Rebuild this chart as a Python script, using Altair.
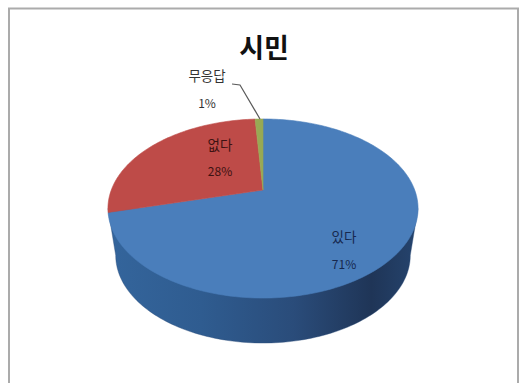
import math
import altair as alt
import pandas as pd

# Survey answers, clockwise from twelve o'clock
answers = ["있다", "없다", "무응답"]
shares = [71, 28, 1]
face_colors = ["#4a7ebb", "#be4b48", "#98a954"]

title_text = "시민"
CANVAS_W, CANVAS_H = 521, 383
FONT = "Noto Sans CJK KR"

# Pie tilted away from the viewer: a projective map of the unit circle
APEX_X, APEX_Y = 263, 190
SPREAD_X, SPREAD_Y, TILT = 151.7, 85.7, 0.2067


def rim(angle):
    u, v = math.sin(angle), -math.cos(angle)
    d = 1 - TILT * v
    return APEX_X + SPREAD_X * u / d, APEX_Y + SPREAD_Y * v / d


def sector(start, stop, steps):
    pts = [(APEX_X, APEX_Y)]
    for i in range(steps + 1):
        pts.append(rim(start + (stop - start) * i / steps))
    return pts


def table(pts):
    return pd.DataFrame({"x": [p[0] for p in pts], "y": [p[1] for p in pts], "i": range(len(pts))})


X = alt.X("x:Q", scale=alt.Scale(domain=[0, CANVAS_W], range=[0, CANVAS_W], nice=False, zero=False), axis=None)
Y = alt.Y("y:Q", scale=alt.Scale(domain=[0, CANVAS_H], range=[0, CANVAS_H], nice=False, zero=False), axis=None)


def polygon(pts, fill, stroke, width=0.6):
    return (
        alt.Chart(table(pts))
        .mark_line(fill=fill, stroke=stroke, strokeWidth=width, interpolate="linear-closed")
        .encode(x=X, y=Y, order="i:Q")
    )


layers = []

# Outer wall: lower rim joined to the widest points of the top face
FACE_MID_Y = 208.5
steps = 120
side_right = math.acos(-TILT)
side_left = 2 * math.pi - side_right
lower = []
for i in range(steps + 1):
    px, py = rim(side_right + (side_left - side_right) * i / steps)
    lower.append((APEX_X + 0.95 * (px - APEX_X), (py - FACE_MID_Y) * 0.98 + 255.3))
wall = [rim(side_right)] + lower + [rim(side_left)]
wall_fill = alt.Gradient(
    gradient="linear", x1=0, x2=1, y1=0, y2=0,
    stops=[
        alt.GradientStop(offset=0, color="#34659c"),
        alt.GradientStop(offset=0.3, color="#2f5c90"),
        alt.GradientStop(offset=0.6, color="#2a4c7a"),
        alt.GradientStop(offset=0.85, color="#1f3557"),
        alt.GradientStop(offset=1, color="#25446e"),
    ],
)
layers.append(polygon(wall, wall_fill, "#2a4c7a", 0.4))

# Top face, one wedge per answer
turn = 0.0
for share, color in zip(shares, face_colors):
    start = turn
    turn += share / sum(shares) * 2 * math.pi
    layers.append(polygon(sector(start, turn, max(2, int(share * 3))), color, color))

# Frame on three sides
frame = pd.DataFrame({"x": [9, 9, 518, 518], "y": [383, 8.5, 8.5, 383], "i": range(4)})
layers.append(
    alt.Chart(frame).mark_line(color="#ababab", strokeWidth=2).encode(x=X, y=Y, order="i:Q")
)

# Leader from the small slice to its label
leader = pd.DataFrame({"x": [232, 240, 260], "y": [84, 85, 119], "i": range(3)})
layers.append(
    alt.Chart(leader).mark_line(color="#5a5a5a", strokeWidth=1.2).encode(x=X, y=Y, order="i:Q")
)

# Text: answer names and their percentages
names = pd.DataFrame(
    {
        "x": [344, 220, 207],
        "y": [238, 146, 77],
        "t": answers,
        "c": ["#16284e", "#3d1212", "#333333"],
    }
)
percents = pd.DataFrame(
    {
        "x": [344, 220, 207],
        "y": [265, 172, 104],
        "t": [f"{s}%" for s in shares],
        "c": ["#16284e", "#3d1212", "#333333"],
    }
)
layers.append(
    alt.Chart(names)
    .mark_text(font=FONT, fontSize=13.5, align="center", baseline="middle")
    .encode(x=X, y=Y, text="t:N", color=alt.Color("c:N", scale=None))
)
layers.append(
    alt.Chart(percents)
    .mark_text(font=FONT, fontSize=12, align="center", baseline="middle")
    .encode(x=X, y=Y, text="t:N", color=alt.Color("c:N", scale=None))
)
layers.append(
    alt.Chart(pd.DataFrame({"x": [264], "y": [50], "t": [title_text]}))
    .mark_text(font=FONT, fontSize=27, fontWeight="bold", align="center", baseline="middle", color="#111111")
    .encode(x=X, y=Y, text="t:N")
)

chart = (
    alt.layer(*layers)
    .properties(width=CANVAS_W, height=CANVAS_H, padding=0, background="white", autosize=alt.AutoSizeParams(type="none"))
    .configure_view(stroke=None)
)
chart.save("out.html", embed_options={"renderer": "svg", "actions": False})
